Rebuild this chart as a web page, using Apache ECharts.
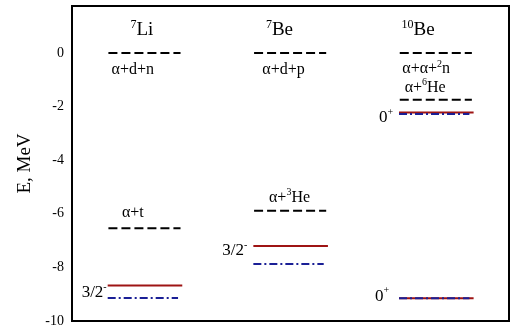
<!DOCTYPE html>
<html><head><meta charset="utf-8">
<script src="https://cdn.jsdelivr.net/npm/echarts@6/dist/echarts.min.js"></script>
<style>html,body{margin:0;padding:0;background:#fff}#c{width:526px;height:329px}</style>
</head><body><div id="c"></div>
<script>
// ---- data ----
const nuclei = ['7Li', '7Be', '10Be'];
const nucleusMass = ['7', '7', '10'];
const nucleusSymbol = ['Li', 'Be', 'Be'];
const thresholdNucleus = [0, 0, 1, 1, 2, 2];
const thresholdEnergy = [0, -6.54, 0, -5.89, 0, -1.75];
const thresholdLabel = ['α+d+n', 'α+t', 'α+d+p', 'α+{3}He', 'α+α+{2}n', 'α+{6}He'];
const levelNucleus = [0, 1, 2, 2];
const calcEnergy = [-8.68, -7.20, -2.22, -9.15];
const exptEnergy = [-9.14, -7.87, -2.28, -9.15];
const levelSpin = ['3/2{-}', '3/2{-}', '0{+}', '0{+}'];
const yTickLabels = [-10, -8, -6, -4, -2, 0];

// ---- styling / label layout ----
const FONT = 'Liberation Serif';
const headerDx = [-3, -11, -18];
const thrDx = [-12, -12, -7, -1, -10, -11];
const thrDy = [17, -15, 17, -13, 16, -12];
const spinDx = [-1, -6, -6, -10];
const spinDy = [7, 5, 5, -2];

function toRich(str) {
  return str.split(/(\{[^}]*\})/).filter(s => s.length).map(s =>
    s[0] === '{' ? '{s|' + s.slice(1, -1) + '}' : '{n|' + s + '}').join('');
}
function richStyle(size, supSize) {
  return {
    n: { fontFamily: FONT, fontSize: size, lineHeight: size + 4, verticalAlign: 'middle', fill: '#000', color: '#000' },
    s: { fontFamily: FONT, fontSize: supSize, lineHeight: supSize, verticalAlign: 'top', fill: '#000', color: '#000' }
  };
}

function levelSeries(cats, vals, color, dash, leftFrac, rightFrac, z) {
  return {
    type: 'custom', z: z, silent: true,
    data: cats.map((c, i) => [c, vals[i]]),
    renderItem: function (params, api) {
      const p = api.coord([api.value(0), api.value(1)]);
      const bw = api.size([1, 0])[0];
      return {
        type: 'line',
        shape: { x1: p[0] - bw * leftFrac, y1: p[1], x2: p[0] + bw * rightFrac, y2: p[1] },
        style: { stroke: color, lineWidth: 2, lineDash: dash }
      };
    }
  };
}

const chart = echarts.init(document.getElementById('c'));
chart.setOption({
  animation: false,
  backgroundColor: '#fff',
  grid: { left: 72, right: 17, top: 6, bottom: 8, show: true, borderColor: '#000', borderWidth: 2, backgroundColor: 'transparent' },
  xAxis: [{
    type: 'category', data: nuclei, boundaryGap: true,
    axisLine: { show: false }, axisTick: { show: false }, axisLabel: { show: false }, splitLine: { show: false }
  }],
  yAxis: [{
    type: 'value', min: -10, max: 1.75, interval: 1, position: 'left',
    axisLine: { show: false }, splitLine: { show: false },
    axisTick: { inside: true, length: 4, lineStyle: { color: '#000', width: 1.5 } },
    axisLabel: {
      margin: 8, fontFamily: FONT, fontSize: 14, color: '#000',
      formatter: v => yTickLabels.indexOf(v) >= 0 ? String(v) : '',
      showMaxLabel: false
    },
    name: 'E, MeV', nameLocation: 'middle', nameGap: 36,
    nameTextStyle: { fontFamily: FONT, fontSize: 19, color: '#000' }
  }, {
    type: 'value', min: -10, max: 1.75, interval: 1, position: 'right',
    axisLine: { show: false }, splitLine: { show: false },
    axisTick: { inside: true, length: 4, lineStyle: { color: '#000', width: 1.5 } },
    axisLabel: { show: false }
  }],
  series: [
    levelSeries(thresholdNucleus, thresholdEnergy, '#000', [9, 4], 0.25, 0.245, 2),
    levelSeries(levelNucleus, calcEnergy, '#9e1414', null, 0.255, 0.257, 3),
    levelSeries(levelNucleus, exptEnergy, '#1a1f96', [8, 3, 2, 3], 0.255, 0.228, 4),
    {
      type: 'custom', z: 5, silent: true,
      data: nuclei.map((n, i) => [i, 1.75]),
      renderItem: function (params, api) {
        const i = params.dataIndex;
        const p = api.coord([api.value(0), api.value(1)]);
        return {
          type: 'text', x: p[0] + headerDx[i], y: p[1] + 24,
          style: {
            text: toRich('{' + nucleusMass[i] + '}' + nucleusSymbol[i]),
            rich: richStyle(19, 12), align: 'center', verticalAlign: 'middle', fill: '#000'
          }
        };
      }
    },
    {
      type: 'custom', z: 5, silent: true,
      data: thresholdNucleus.map((c, i) => [c, thresholdEnergy[i]]),
      renderItem: function (params, api) {
        const i = params.dataIndex;
        const p = api.coord([api.value(0), api.value(1)]);
        return {
          type: 'text', x: p[0] + thrDx[i], y: p[1] + thrDy[i],
          style: { text: toRich(thresholdLabel[i]), rich: richStyle(16, 10), align: 'center', verticalAlign: 'middle', fill: '#000' }
        };
      }
    },
    {
      type: 'custom', z: 5, silent: true,
      data: levelNucleus.map((c, i) => [c, calcEnergy[i]]),
      renderItem: function (params, api) {
        const i = params.dataIndex;
        const p = api.coord([api.value(0), api.value(1)]);
        const bw = api.size([1, 0])[0];
        return {
          type: 'text', x: p[0] - bw * 0.255 + spinDx[i], y: p[1] + spinDy[i],
          style: { text: toRich(levelSpin[i]), rich: richStyle(17, 10), align: 'right', verticalAlign: 'middle', fill: '#000' }
        };
      }
    }
  ]
});
</script>
</body></html>
